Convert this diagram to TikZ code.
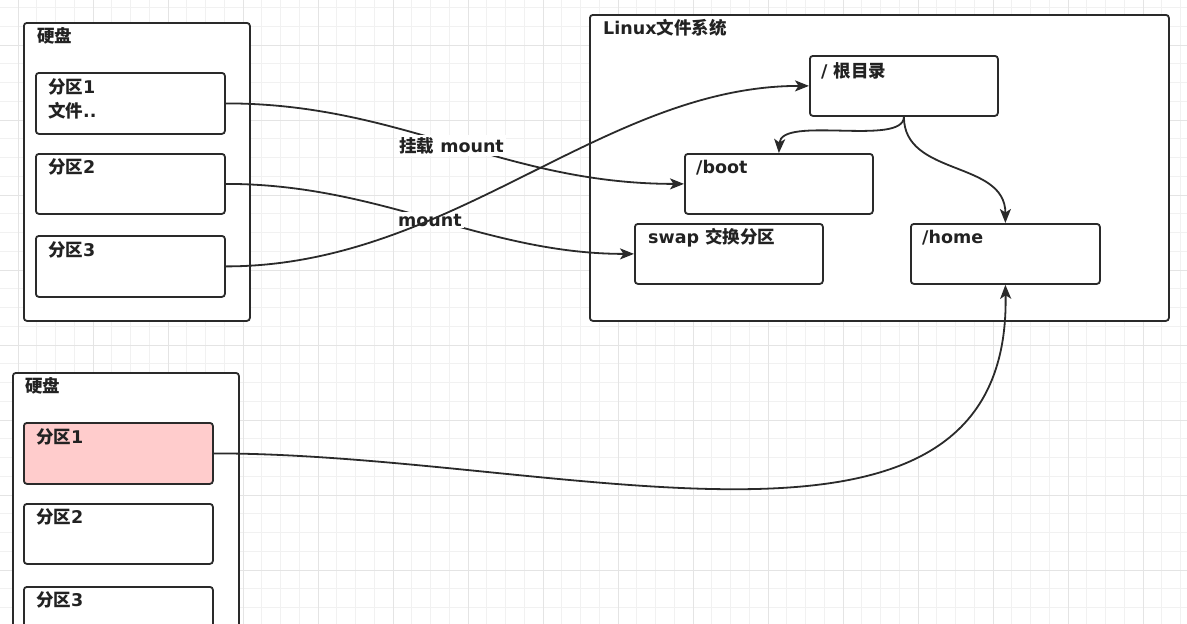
\documentclass[tikz,border=0pt]{standalone}
\usepackage{fontspec}
\setmainfont{DejaVu Sans}
\newfontfamily\cjk{Noto Sans CJK SC}
\usetikzlibrary{arrows.meta}
\definecolor{ink}{HTML}{222222}
\definecolor{edge}{HTML}{2A2A2A}
\definecolor{gridminor}{HTML}{F1F1F1}
\definecolor{gridmajor}{HTML}{E4E4E4}
\definecolor{pinkfill}{HTML}{FFCCCC}
\tikzset{
  box/.style={draw=edge, line width=1.8pt, rounded corners=3pt, fill=white, anchor=north west, inner sep=0pt},
  txt/.style={anchor=base west, inner sep=0pt, text=ink, font=\fontsize{17.5}{22}\selectfont\bfseries},
  elabel/.style={anchor=base west, inner sep=2pt, fill=white, text=ink, font=\fontsize{17.5}{22}\selectfont\bfseries},
  conn/.style={draw=edge, line width=1.8pt, -{Stealth[length=14pt,width=11pt,inset=3.5pt]}},
}
\begin{document}
\begin{tikzpicture}[x=1pt,y=-1pt]
\useasboundingbox (0,0) rectangle (1187,624);
\clip (0,0) rectangle (1187,624);
\fill[white] (0,0) rectangle (1187,624);
% grid
\foreach \k in {0,...,63} \draw[gridminor, line width=0.8pt] ({18+18.75*\k},0) -- ++(0,624);
\foreach \k in {0,...,33} \draw[gridminor, line width=0.8pt] (0,{7.5+18.75*\k}) -- ++(1187,0);
\foreach \k in {0,...,15} \draw[gridmajor, line width=1pt] ({18+75*\k},0) -- ++(0,624);
\foreach \k in {0,...,7} \draw[gridmajor, line width=1pt] (0,{45+75*\k}) -- ++(1187,0);

% top disk
\node[box, minimum width=226pt, minimum height=298pt] (disk1) at (23,22) {};
\node[txt] (disk1t) at (37,42) {{\cjk 硬盘}};
\node[box, minimum width=189pt, minimum height=61pt] (a1) at (35,72) {};
\node[box, minimum width=189pt, minimum height=60pt] (a2) at (35,153) {};
\node[box, minimum width=189pt, minimum height=61pt] (a3) at (35,235) {};
\node[txt] (a1t) at (48,93) {{\cjk 分区}1};
\node[txt] (a1f) at (48,117) {{\cjk 文件}..};
\node[txt] (a2t) at (48,173) {{\cjk 分区}2};
\node[txt] (a3t) at (48,256) {{\cjk 分区}3};

% bottom disk
\node[box, minimum width=226pt, minimum height=330pt] (disk2) at (12,372) {};
\node[txt] (disk2t) at (25,392) {{\cjk 硬盘}};
\node[box, fill=pinkfill, minimum width=189pt, minimum height=61pt] (b1) at (23,422) {};
\node[box, minimum width=189pt, minimum height=60pt] (b2) at (23,503) {};
\node[box, minimum width=189pt, minimum height=61pt] (b3) at (23,586) {};
\node[txt] (b1t) at (36,443) {{\cjk 分区}1};
\node[txt] (b2t) at (36,523) {{\cjk 分区}2};
\node[txt] (b3t) at (36,606) {{\cjk 分区}3};

% linux fs
\node[box, minimum width=579pt, minimum height=306pt] (fs) at (589,14) {};
\node[txt] (fst) at (603,34) {Linux{\cjk 文件系统}};
\node[box, minimum width=188pt, minimum height=60pt] (root) at (809,55) {};
\node[box, minimum width=188pt, minimum height=60pt] (boot) at (684,153) {};
\node[box, minimum width=188pt, minimum height=60pt] (swap) at (634,223) {};
\node[box, minimum width=189pt, minimum height=60pt] (home) at (910,223) {};
\node[txt] (roott) at (821,77) {/ {\cjk 根目录}};
\node[txt] (boott) at (696,173) {/boot};
\node[txt] (swapt) at (648,243) {swap {\cjk 交换分区}};
\node[txt] (homet) at (922,243) {/home};

% connectors
\draw[conn] (a1.east) .. controls +(176,0) and +(-181,0) .. (boot.west);
\draw[conn] (a2.east) .. controls +(156,0) and +(-150,0) .. (swap.west);
\node[elabel] (l1) at (397,152) {{\cjk 挂载} mount};
\node[elabel] (l2) at (396,226) {mount};
\draw[conn] (a3.east) .. controls +(226,0) and +(-206,0) .. (root.west);
\draw[conn] (root.south) .. controls +(0,30) and +(2,-38) .. (boot.north);
\draw[conn] (root.south) .. controls +(0,60) and +(0,-63) .. (home.north);
\draw[conn] (b1.east) .. controls +(348,0) and +(6,317) .. (home.south);
\end{tikzpicture}
\end{document}
